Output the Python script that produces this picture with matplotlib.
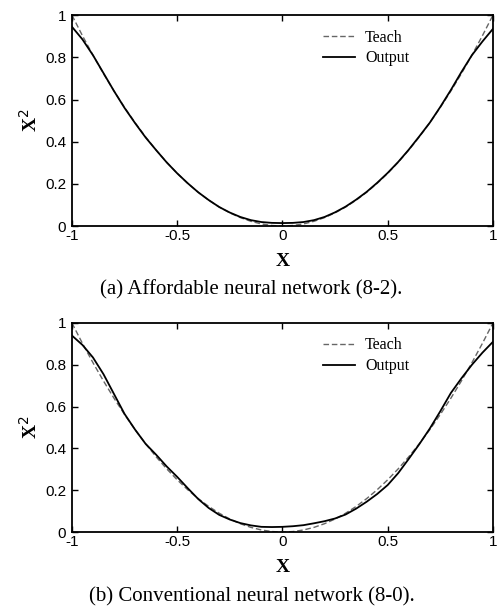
import matplotlib
matplotlib.use('Agg')
import matplotlib.pyplot as plt

# ================================================================================================================
# data (step 0.05 in x)
# ================================================================================================================
x = [-1.0, -0.95, -0.9, -0.85, -0.8, -0.75, -0.7, -0.65, -0.6, -0.55, -0.5,
     -0.45, -0.4, -0.35, -0.3, -0.25, -0.2, -0.15, -0.1, -0.05, 0.0,
     0.05, 0.1, 0.15, 0.2, 0.25, 0.3, 0.35, 0.4, 0.45, 0.5,
     0.55, 0.6, 0.65, 0.7, 0.75, 0.8, 0.85, 0.9, 0.95, 1.0]
teach = [1.0, 0.9025, 0.81, 0.7225, 0.64, 0.5625, 0.49, 0.4225, 0.36, 0.3025, 0.25,
         0.2025, 0.16, 0.1225, 0.09, 0.0625, 0.04, 0.0225, 0.01, 0.0025, 0.0,
         0.0025, 0.01, 0.0225, 0.04, 0.0625, 0.09, 0.1225, 0.16, 0.2025, 0.25,
         0.3025, 0.36, 0.4225, 0.49, 0.5625, 0.64, 0.7225, 0.81, 0.9025, 1.0]
out_a = [0.945, 0.885, 0.81, 0.725, 0.64, 0.56, 0.488, 0.42, 0.36, 0.302, 0.25,
         0.203, 0.16, 0.123, 0.09, 0.064, 0.043, 0.028, 0.019, 0.015, 0.014,
         0.015, 0.019, 0.028, 0.043, 0.065, 0.092, 0.125, 0.162, 0.205, 0.252,
         0.304, 0.362, 0.425, 0.49, 0.565, 0.645, 0.73, 0.81, 0.875, 0.935]
out_b = [0.94, 0.895, 0.835, 0.755, 0.66, 0.565, 0.49, 0.422, 0.37, 0.314, 0.264,
         0.21, 0.158, 0.115, 0.082, 0.06, 0.043, 0.032, 0.025, 0.024, 0.025,
         0.028, 0.033, 0.042, 0.052, 0.065, 0.084, 0.112, 0.145, 0.182, 0.225,
         0.282, 0.35, 0.42, 0.495, 0.578, 0.665, 0.735, 0.80, 0.858, 0.91]
xticks = [-1, -0.5, 0, 0.5, 1]
xticklabels = ['-1', '-0.5', '0', '0.5', '1']
yticks = [0, 0.2, 0.4, 0.6, 0.8, 1]
yticklabels = ['0', '0.2', '0.4', '0.6', '0.8', '1']
captions = ['(a) Affordable neural network (8-2).', '(b) Conventional neural network (8-0).']

SANS = 'Liberation Sans'
SERIF = 'Liberation Serif'

fig = plt.figure(figsize=(5.03, 6.06), dpi=100)
boxes = [[0.143, 0.627, 0.837, 0.348], [0.143, 0.122, 0.837, 0.345]]
cap_y = [0.514, 0.008]   # caption baselines

for box, out, cap, cy in zip(boxes, [out_a, out_b], captions, cap_y):
    ax = fig.add_axes(box)
    ax.plot(x, teach, '--', color='#666666', lw=1.0, dashes=(4, 2), label='Teach')
    ax.plot(x, out, '-', color='black', lw=1.3, label='Output')
    ax.set_xlim(-1, 1)
    ax.set_ylim(0, 1)
    ax.set_xticks(xticks)
    ax.set_xticklabels(xticklabels, fontfamily=SANS, fontsize=11)
    ax.set_yticks(yticks)
    ax.set_yticklabels(yticklabels, fontfamily=SANS, fontsize=11)
    ax.tick_params(direction='in', length=4, width=1, top=True, right=True)
    ax.tick_params(axis='y', pad=4)
    ax.tick_params(axis='x', pad=2)
    for s in ax.spines.values():
        s.set_linewidth(1.3)
    ax.set_xlabel('X', fontfamily=SERIF, fontweight='bold', fontsize=14, labelpad=7)
    ax.set_ylabel(r'X$^{\mathsf{2}}$', fontfamily=SERIF, fontweight='bold', fontsize=14,
                  labelpad=3)
    ax.legend(loc='upper right', bbox_to_anchor=(0.835, 1.0), frameon=False,
              prop={'family': SERIF, 'size': 11.5}, handlelength=2.0,
              handletextpad=0.6, labelspacing=0.3)
    fig.text(0.5, cy, cap, ha='center', va='baseline', fontfamily=SERIF, fontsize=15)

fig.savefig('out.png', dpi=100)
